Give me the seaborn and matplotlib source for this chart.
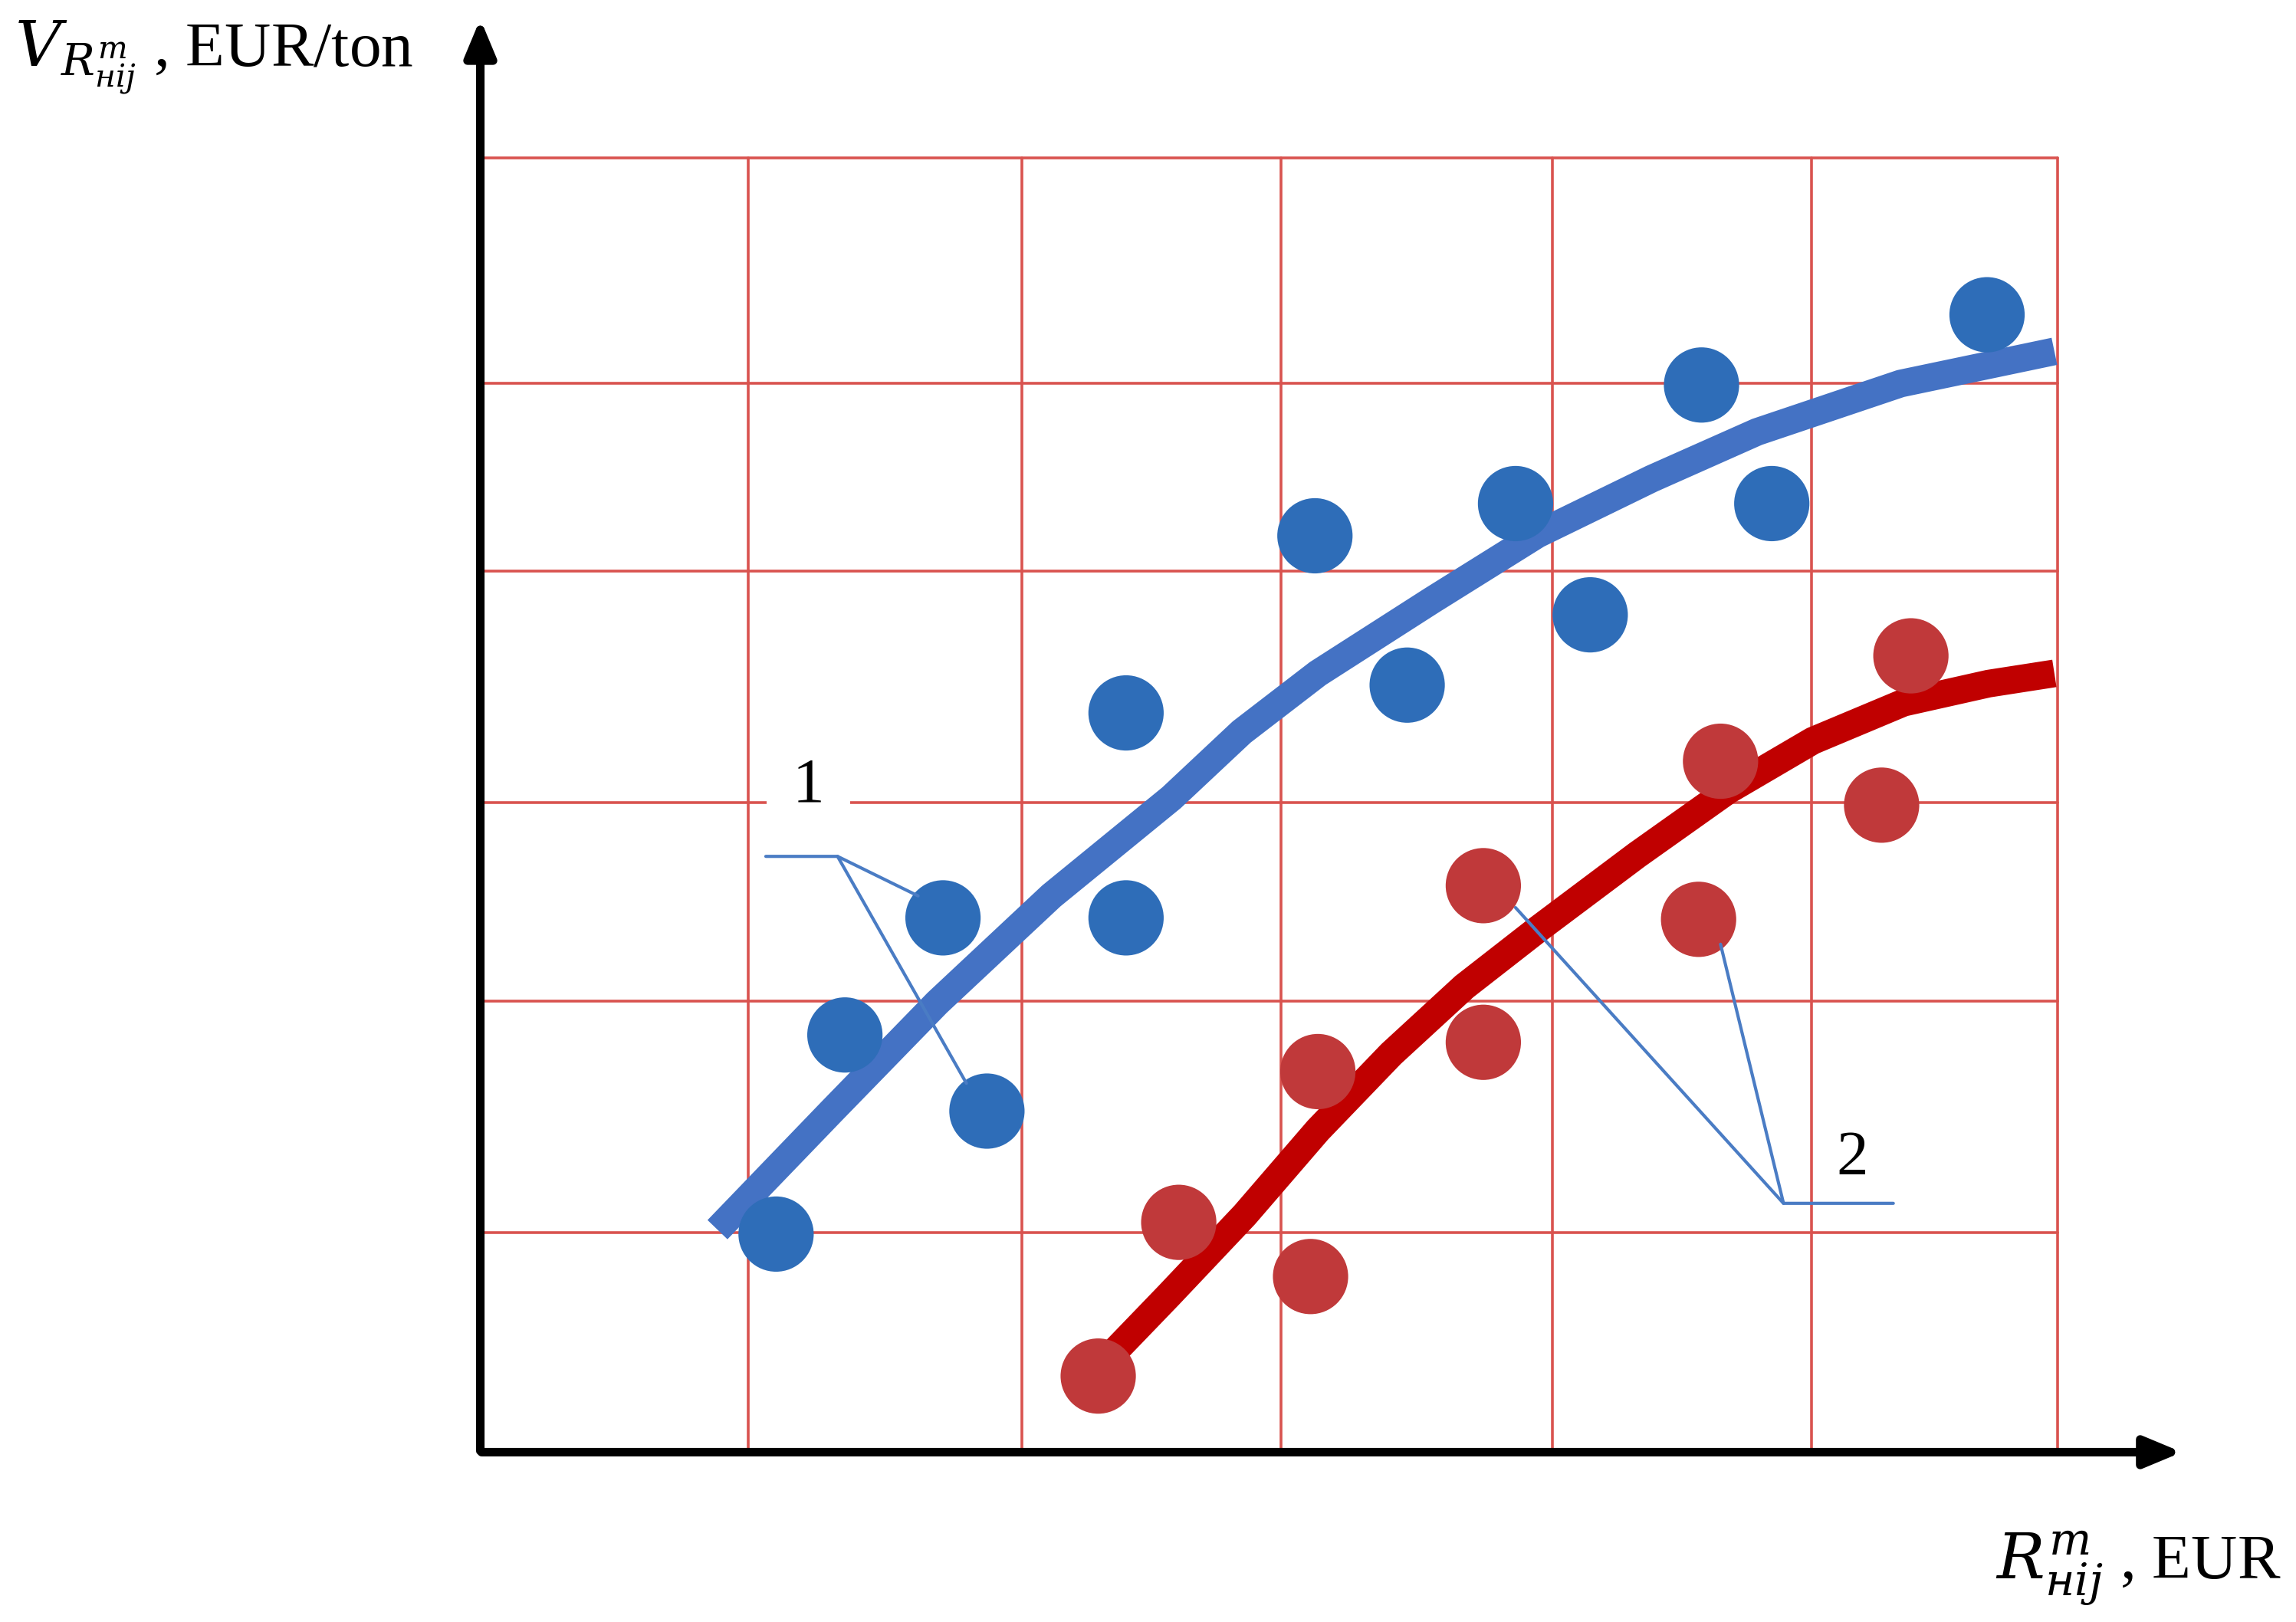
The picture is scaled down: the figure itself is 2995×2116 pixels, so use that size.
import numpy as np
import pandas as pd
import matplotlib
matplotlib.use("Agg")
import matplotlib.pyplot as plt
import seaborn as sns

# values in chart units (origin at the axes corner)
blue_x = [202, 249, 316, 346, 441, 441, 570, 633, 707, 758, 834, 882, 1029]
blue_y = [149, 285, 365, 233, 505, 365, 626, 524, 648, 572, 729, 648, 777]
red_x = [422, 477, 567, 572, 685, 685, 832, 847, 957, 977]
red_y = [52, 157, 120, 260, 387, 280, 364, 472, 442, 544]

blue_cx = [162, 240, 312, 390, 472, 520, 572, 650, 722, 800, 872, 970, 1075]
blue_cy = [152, 233, 307, 380, 447, 492, 532, 582, 627, 665, 697, 730, 752]
red_cx = [417, 470, 522, 572, 622, 672, 722, 790, 852, 910, 972, 1030, 1075]
red_cy = [52, 107, 162, 220, 272, 318, 357, 408, 452, 486, 512, 525, 532]

grid_x = [183, 370, 547, 732, 909, 1077]
grid_y = [150, 308, 444, 602, 730, 884]

sns.set_theme(style="white")
plt.rcParams['font.family'] = ['Liberation Serif', 'DejaVu Serif']
plt.rcParams['mathtext.fontset'] = 'dejavuserif'
plt.rcParams['text.color'] = 'black'

fig = plt.figure(figsize=(14.975, 10.58), dpi=200)
ax = fig.add_axes([0, 0, 1, 1])
ax.set_xlim(-328, 1240)
ax.set_ylim(-116, 992)
ax.axis('off')

grid_c = '#d9534f'
for gx in grid_x:
    ax.plot([gx, gx], [0, 884], color=grid_c, lw=1.3, zorder=1)
for gy in grid_y:
    ax.plot([0, 1077], [gy, gy], color=grid_c, lw=1.3, zorder=1)

# axes with arrows
ax.annotate('', xy=(0, 982), xytext=(0, -2),
            arrowprops=dict(arrowstyle='-|>,head_width=0.5,head_length=1.2', color='black', lw=4))
ax.annotate('', xy=(1165, 0), xytext=(-2, 0),
            arrowprops=dict(arrowstyle='-|>,head_width=0.5,head_length=1.2', color='black', lw=4))

curves = pd.DataFrame({'x': blue_cx + red_cx, 'y': blue_cy + red_cy,
                       's': ['1'] * len(blue_cx) + ['2'] * len(red_cx)})
sns.lineplot(data=curves, x='x', y='y', hue='s', palette={'1': '#4472c4', '2': '#c00000'},
             lw=13, sort=False, legend=False, ax=ax, zorder=3,
             solid_joinstyle='round', solid_capstyle='butt')

pts = pd.DataFrame({'x': blue_x + red_x, 'y': blue_y + red_y,
                    's': ['1'] * len(blue_x) + ['2'] * len(red_x)})
sns.scatterplot(data=pts, x='x', y='y', hue='s', palette={'1': '#2e6db8', '2': '#c0393a'},
                s=1250, edgecolor=None, linewidth=0, legend=False, ax=ax, zorder=4)
ax.set_xlim(-328, 1240)
ax.set_ylim(-116, 992)

# leader lines
lc = '#4a7cc4'
ax.plot([195, 244, 299], [407, 407, 380], color=lc, lw=1.5, zorder=5)
ax.plot([244, 332], [407, 252], color=lc, lw=1.5, zorder=5)
ax.plot([965, 890, 707], [170, 170, 372], color=lc, lw=1.5, zorder=5)
ax.plot([890, 847], [170, 347], color=lc, lw=1.5, zorder=5)

ax.text(224, 455, '1', fontsize=30, ha='center', va='center',
        bbox=dict(facecolor='white', edgecolor='none', pad=12), zorder=6)
ax.text(937, 200, '2', fontsize=30, ha='center', va='center', zorder=6)

ax.text(-318, 952, r'$V_{R^{m}_{нij}}$ , EUR/ton', fontsize=30, ha='left', va='center')
ax.text(1230, -80, r'$R^{m}_{нij}$ , EUR', fontsize=30, ha='right', va='center')

fig.savefig('out.png', dpi=200)
